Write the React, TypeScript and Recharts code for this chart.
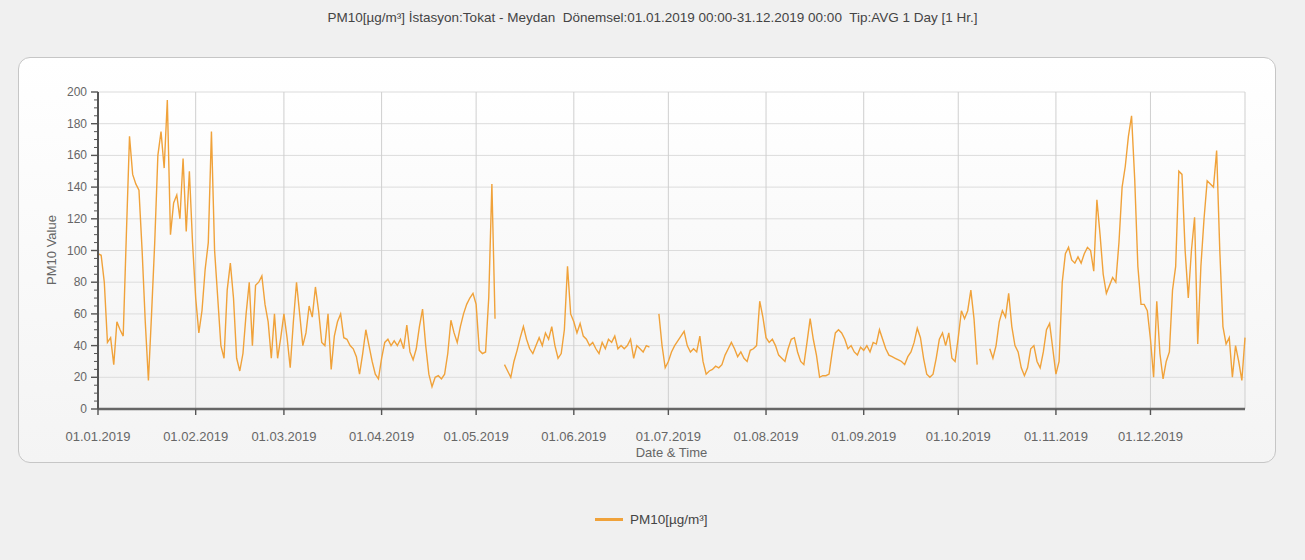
import { LineChart, Line, XAxis, YAxis, CartesianGrid } from "recharts";

// Daily PM10 averages, 2019, one array per month (null = no measurement)
const jan = [98, 97, 80, 42, 45, 28, 55, 50, 46, 110, 172, 148, 142, 138, 100, 55, 18, 60, 105, 160, 175, 152, 195, 110, 130, 135, 120, 158, 112, 150, 105];
const feb = [70, 48, 62, 88, 105, 175, 100, 70, 40, 32, 75, 92, 70, 32, 24, 35, 60, 80, 40, 78, 80, 84, 66, 55, 32, 60, 32, 45];
const mar = [60, 45, 26, 55, 80, 60, 40, 48, 65, 58, 77, 62, 42, 40, 60, 25, 46, 55, 60, 45, 44, 40, 38, 33, 22, 35, 50, 40, 30, 22, 19];
const apr = [32, 42, 44, 40, 43, 40, 44, 38, 53, 36, 31, 38, 52, 63, 40, 22, 14, 20, 21, 19, 22, 35, 56, 48, 42, 52, 60, 66, 70, 73];
const may = [66, 37, 35, 36, 70, 142, 57, null, null, 28, 24, 20, 30, 37, 45, 52, 44, 38, 35, 40, 45, 40, 48, 44, 52, 40, 32, 35, 50, 90, 60];
const jun = [55, 48, 54, 46, 44, 40, 42, 38, 35, 42, 38, 44, 42, 46, 38, 40, 38, 40, 44, 32, 40, 38, 36, 40, 39, null, null, 60, 40, 26];
const jul = [30, 36, 40, 43, 46, 49, 40, 36, 38, 36, 46, 30, 22, 24, 25, 27, 26, 28, 34, 38, 42, 38, 33, 36, 32, 30, 37, 38, 40, 68, 58];
const aug = [45, 42, 44, 40, 34, 32, 30, 38, 44, 45, 36, 30, 28, 42, 57, 44, 34, 20, 21, 21, 22, 36, 48, 50, 48, 44, 38, 40, 36, 34, 39];
const sep = [37, 40, 36, 42, 41, 50, 44, 38, 34, 33, 32, 31, 30, 28, 33, 36, 42, 51, 45, 32, 22, 20, 22, 32, 44, 48, 40, 48, 32, 30];
const oct = [45, 62, 57, 62, 75, 57, 28, null, null, null, 38, 32, 40, 55, 62, 58, 73, 52, 40, 36, 26, 21, 26, 38, 40, 30, 26, 36, 50, 54, 38];
const nov = [22, 30, 80, 98, 102, 94, 92, 96, 92, 98, 102, 100, 87, 132, 110, 85, 73, 78, 83, 80, 105, 140, 153, 172, 185, 145, 90, 66, 66, 62];
const dec = [44, 20, 68, 35, 19, 30, 36, 75, 90, 150, 148, 100, 70, 100, 121, 41, 90, 120, 144, 142, 140, 163, 100, 52, 41, 45, 20, 40, 30, 18, 45];

const monthLabels = [
  "01.01.2019", "01.02.2019", "01.03.2019", "01.04.2019", "01.05.2019", "01.06.2019",
  "01.07.2019", "01.08.2019", "01.09.2019", "01.10.2019", "01.11.2019", "01.12.2019",
];
const yMajor = [0, 20, 40, 60, 80, 100, 120, 140, 160, 180, 200];
const yMinor = [
  0, 5, 10, 15, 20, 25, 30, 35, 40, 45, 50, 55, 60, 65, 70, 75, 80, 85, 90, 95, 100,
  105, 110, 115, 120, 125, 130, 135, 140, 145, 150, 155, 160, 165, 170, 175, 180, 185, 190, 195, 200,
];

const months = [jan, feb, mar, apr, may, jun, jul, aug, sep, oct, nov, dec];
const series = months.flat();
const data = series.map((value, day) => ({ day, value }));

const monthStarts: number[] = [];
let offset = 0;
for (const m of months) {
  monthStarts.push(offset);
  offset += m.length;
}

const TITLE =
  "PM10[µg/m³] İstasyon:Tokat - Meydan  Dönemsel:01.01.2019 00:00-31.12.2019 00:00  Tip:AVG 1 Day [1 Hr.]";
const LINE_COLOR = "#F0A23A";
const FONT = "'Liberation Sans', Arial, sans-serif";

function YTick(props: any) {
  const { x, y, payload } = props;
  const major = payload.value % 20 === 0;
  return (
    <g>
      <line x1={x - (major ? 7 : 4)} x2={x} y1={y} y2={y} stroke="#555" strokeWidth={major ? 1.4 : 1} />
      {major && (
        <text x={x - 11} y={y + 4} textAnchor="end" fontSize={12} fill="#666" fontFamily={FONT}>
          {payload.value}
        </text>
      )}
    </g>
  );
}

function XTick(props: any) {
  const { x, y, payload, index } = props;
  return (
    <g>
      <line x1={x} x2={x} y1={y} y2={y + 6} stroke="#555" strokeWidth={1.4} />
      <text x={x} y={y + 32} textAnchor="middle" fontSize={13} fill="#666" fontFamily={FONT}>
        {monthLabels[index] ?? payload.value}
      </text>
    </g>
  );
}

export default function App() {
  return (
    <div style={{ position: "absolute", left: 0, top: 0, width: 1305, height: 560, background: "#f0f0f0", fontFamily: FONT }}>
      <div
        style={{
          position: "absolute",
          left: 0,
          top: 10,
          width: 1305,
          textAlign: "center",
          fontSize: 13.5,
          color: "#444",
          whiteSpace: "pre",
        }}
      >
        {TITLE}
      </div>
      <div
        style={{
          position: "absolute",
          left: 18,
          top: 57,
          width: 1256,
          height: 404,
          border: "1px solid #c6c6c6",
          borderRadius: 12,
          background: "linear-gradient(#ffffff, #f4f4f4)",
        }}
      />
      <div style={{ position: "absolute", left: 0, top: 0 }}>
        <LineChart width={1305} height={560} data={data} margin={{ top: 92, right: 60, bottom: 0, left: 0 }}>
          <defs>
            <linearGradient id="plotFill" x1="0" y1="0" x2="0" y2="1">
              <stop offset="0%" stopColor="#ffffff" />
              <stop offset="100%" stopColor="#f3f3f3" />
            </linearGradient>
          </defs>
          <CartesianGrid vertical={false} horizontalValues={yMajor} stroke="#dcdcdc" fill="url(#plotFill)" />
          <CartesianGrid horizontal={false} stroke="#cfcfcf" />
          <XAxis
            dataKey="day"
            type="number"
            domain={[0, 364]}
            ticks={monthStarts}
            interval={0}
            height={151}
            tickSize={0}
            tickMargin={0}
            tickLine={false}
            tick={<XTick />}
            axisLine={{ stroke: "#666", strokeWidth: 2.5 }}
          />
          <YAxis
            type="number"
            domain={[0, 200]}
            ticks={yMinor}
            interval={0}
            width={98}
            tickSize={0}
            tickMargin={0}
            tickLine={false}
            tick={<YTick />}
            axisLine={{ stroke: "#555", strokeWidth: 2 }}
          />
          <Line
            type="linear"
            dataKey="value"
            stroke={LINE_COLOR}
            strokeWidth={1.4}
            dot={false}
            activeDot={false}
            connectNulls={false}
            isAnimationActive={false}
          />
        </LineChart>
      </div>
      <div
        style={{
          position: "absolute",
          left: 51,
          top: 250,
          fontSize: 13,
          color: "#666",
          transform: "translate(-50%, -50%) rotate(-90deg)",
          whiteSpace: "nowrap",
        }}
      >
        PM10 Value
      </div>
      <div style={{ position: "absolute", left: 98, width: 1147, top: 445, textAlign: "center", fontSize: 13, color: "#666" }}>
        Date &amp; Time
      </div>
      <div style={{ position: "absolute", left: 595, top: 512, display: "flex", alignItems: "center", fontSize: 13.5, color: "#444" }}>
        <span style={{ display: "inline-block", width: 28, height: 3, background: LINE_COLOR, marginRight: 7 }} />
        PM10[µg/m³]
      </div>
    </div>
  );
}
